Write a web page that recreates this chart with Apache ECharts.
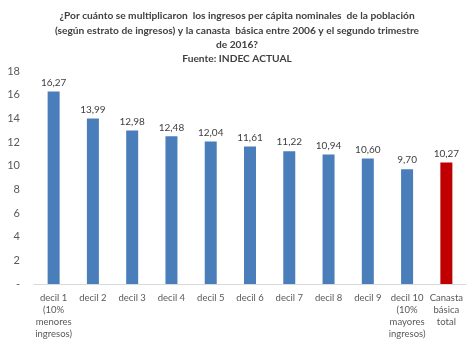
<!DOCTYPE html>
<html>
<head>
<meta charset="utf-8">
<script src="https://cdn.jsdelivr.net/npm/echarts@6/dist/echarts.min.js"></script>
<style>
  html, body { margin: 0; padding: 0; background: #fff; }
  #chart { width: 474px; height: 343px; }
</style>
</head>
<body>
<div id="chart"></div>
<script>
// Categories (income deciles and the basic basket)
const categories = [
  'decil 1\n(10%\nmenores\ningresos)', 'decil 2', 'decil 3', 'decil 4', 'decil 5',
  'decil 6', 'decil 7', 'decil 8', 'decil 9',
  'decil 10\n(10%\nmayores\ningresos)', 'Canasta\nbásica\ntotal'
];
// Multiplier 2006 -> 2Q 2016
const values = [16.27, 13.99, 12.98, 12.48, 12.04, 11.61, 11.22, 10.94, 10.60, 9.70, 10.27];
const yTicks = [0, 2, 4, 6, 8, 10, 12, 14, 16, 18];

const blue = '#4a7ebb';
const red = '#c00000';
const font = 'Lato';

const chart = echarts.init(document.getElementById('chart'), null, { renderer: 'canvas' });
chart.setOption({
  animation: false,
  title: {
    text: '¿Por cuánto se multiplicaron  los ingresos per cápita nominales  de la población\n(según estrato de ingresos) y la canasta  básica entre 2006 y el segundo trimestre\nde 2016?\nFuente: INDEC ACTUAL',
    left: 'center',
    top: 4,
    textStyle: {
      fontFamily: font,
      fontSize: 10.2,
      fontWeight: 'bold',
      color: '#404040',
      lineHeight: 14.3,
      align: 'center'
    }
  },
  grid: { left: 34, right: 8, top: 71, bottom: 59, containLabel: false },
  xAxis: {
    type: 'category',
    data: categories,
    axisLine: { lineStyle: { color: '#d9d9d9' } },
    axisTick: { show: false },
    axisLabel: {
      interval: 0,
      color: '#595959',
      fontFamily: font,
      fontSize: 9.5,
      lineHeight: 12,
      margin: 8
    }
  },
  yAxis: {
    type: 'value',
    min: 0,
    max: 18,
    interval: 2,
    splitLine: { show: false },
    axisLine: { show: false },
    axisTick: { show: false },
    axisLabel: {
      color: '#595959',
      fontFamily: font,
      fontSize: 11,
      margin: 14,
      formatter: v => (v === 0 ? '-' : (yTicks.includes(v) ? String(v) : ''))
    }
  },
  series: [{
    type: 'bar',
    data: values.map((v, i) => ({
      value: v,
      itemStyle: { color: i === values.length - 1 ? red : blue }
    })),
    barWidth: 12,
    label: {
      show: true,
      position: 'top',
      distance: 4,
      color: '#404040',
      fontFamily: font,
      fontSize: 10,
      formatter: p => p.value.toFixed(2).replace('.', ',')
    }
  }]
});
</script>
</body>
</html>
